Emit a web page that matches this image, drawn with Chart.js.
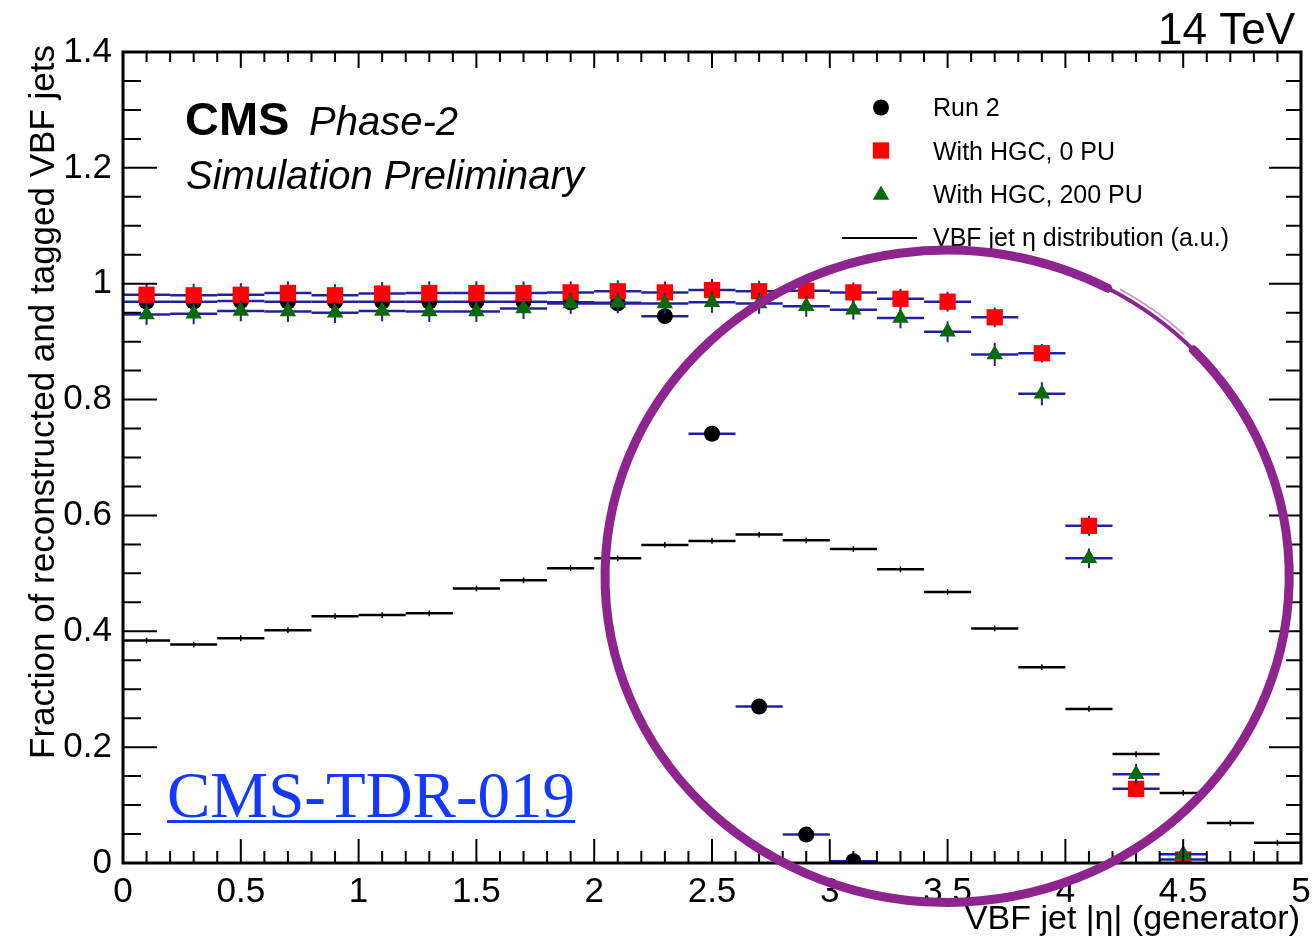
<!DOCTYPE html>
<html>
<head>
<meta charset="utf-8">
<script src="https://cdn.jsdelivr.net/npm/chart.js@4.4.1/dist/chart.umd.min.js"></script>
<style>
  html, body { margin: 0; padding: 0; background: #fff; }
  canvas { display: block; }
</style>
</head>
<body>
<canvas id="chart" width="1313" height="939"></canvas>
<script>
// VBF jet tagging efficiency vs |eta| (CMS Phase-2 HGC TDR)

const binCenters = [0.1, 0.3, 0.5, 0.7, 0.9, 1.1, 1.3, 1.5, 1.7, 1.9, 2.1, 2.3, 2.5,
                    2.7, 2.9, 3.1, 3.3, 3.5, 3.7, 3.9, 4.1, 4.3, 4.5, 4.7, 4.9];
const binHalfWidth = 0.1;

const run2 = [0.969, 0.969, 0.970, 0.969, 0.969, 0.969, 0.969, 0.969, 0.969, 0.968, 0.966, 0.944, 0.741,
              0.270, 0.049, 0.003, null, null, null, null, null, null, null, null, null];
const run2Err = [0.010, 0.010, 0.010, 0.010, 0.010, 0.010, 0.010, 0.010, 0.010, 0.010, 0.010, 0.010, 0.010,
                 0.010, 0.008, 0.003, null, null, null, null, null, null, null, null, null];

const hgc0PU = [0.981, 0.980, 0.981, 0.984, 0.980, 0.983, 0.984, 0.984, 0.984, 0.985, 0.987, 0.985, 0.989,
                0.987, 0.988, 0.985, 0.974, 0.969, 0.942, 0.880, 0.582, 0.128, 0.006, null, null];
const hgc0PUErr = [0.020, 0.020, 0.020, 0.020, 0.019, 0.020, 0.020, 0.020, 0.020, 0.019, 0.019, 0.019, 0.019,
                   0.018, 0.018, 0.017, 0.017, 0.017, 0.017, 0.016, 0.017, 0.015, 0.008, null, null];

const hgc200PU = [0.947, 0.948, 0.953, 0.952, 0.950, 0.953, 0.952, 0.952, 0.957, 0.966, 0.967, 0.966, 0.968,
                  0.966, 0.961, 0.955, 0.941, 0.917, 0.878, 0.810, 0.526, 0.153, 0.015, null, null];
const hgc200PUErr = [0.018, 0.018, 0.018, 0.018, 0.018, 0.018, 0.018, 0.018, 0.018, 0.018, 0.018, 0.018, 0.018,
                     0.018, 0.018, 0.017, 0.018, 0.018, 0.020, 0.020, 0.017, 0.018, 0.010, null, null];

const etaDist = [0.384, 0.377, 0.388, 0.402, 0.426, 0.428, 0.431, 0.474, 0.488, 0.509, 0.526, 0.549, 0.556,
                 0.567, 0.557, 0.542, 0.507, 0.468, 0.405, 0.338, 0.266, 0.188, 0.121, 0.069, 0.035];
const etaDistErr = 0.005;

// hand-drawn highlight ring, in data units
const ring = { cx: 3.498, cy: 0.495, rx: 1.452, ry: 0.563 };

const FONT = "'Liberation Sans', Arial, Helvetica, sans-serif";
const ERR_BLUE = '#2020a0';

function toPoints(values, errs) {
    const pts = [];
    values.forEach((v, i) => {
        if (v === null) return;
        pts.push({ x: binCenters[i], y: v, err: Array.isArray(errs) ? errs[i] : errs });
    });
    return pts;
}

// error bars drawn just before each dataset's markers (like ROOT)
const errorBars = {
    id: 'errorBars',
    beforeDatasetDraw(chart, args) {
        const ds = chart.data.datasets[args.index];
        const { ctx } = chart;
        const x = chart.scales.x, y = chart.scales.y;
        ctx.save();
        ctx.strokeStyle = ds.errColor;
        for (const p of ds.data) {
            const px = x.getPixelForValue(p.x);
            const py = y.getPixelForValue(p.y);
            ctx.lineWidth = ds.hLineWidth;
            ctx.beginPath();
            ctx.moveTo(x.getPixelForValue(p.x - binHalfWidth), py);
            ctx.lineTo(x.getPixelForValue(p.x + binHalfWidth), py);
            ctx.stroke();
            ctx.lineWidth = ds.vLineWidth;
            ctx.beginPath();
            ctx.moveTo(px, y.getPixelForValue(Math.max(0, p.y - p.err)));
            ctx.lineTo(px, y.getPixelForValue(p.y + p.err));
            ctx.stroke();
        }
        ctx.restore();
    }
};

// ROOT style frame with inward ticks on all four sides
const frameTicks = {
    id: 'frameTicks',
    afterDatasetsDraw(chart) {
        const { ctx, chartArea: a } = chart;
        const x = chart.scales.x, y = chart.scales.y;
        ctx.save();
        ctx.strokeStyle = '#000';
        ctx.lineWidth = 2;
        ctx.beginPath();
        for (let i = 0; i <= 50; i++) {
            const px = x.getPixelForValue(i * 0.1);
            const major = i % 5 === 0;
            ctx.moveTo(px, a.bottom);
            ctx.lineTo(px, a.bottom - (major ? 24 : 12));
            ctx.moveTo(px, a.top);
            ctx.lineTo(px, a.top + (major ? 16 : 10));
        }
        for (let i = 0; i <= 28; i++) {
            const py = y.getPixelForValue(i * 0.05);
            const major = i % 4 === 0;
            ctx.moveTo(a.left, py);
            ctx.lineTo(a.left + (major ? 34 : 18), py);
            ctx.moveTo(a.right, py);
            ctx.lineTo(a.right - (major ? 32 : 15), py);
        }
        ctx.stroke();
        ctx.lineWidth = 3;
        ctx.strokeRect(a.left, a.top, a.right - a.left, a.bottom - a.top);
        ctx.restore();
    }
};

// texts, legend and the purple ring
const decorations = {
    id: 'decorations',
    afterDraw(chart) {
        const { ctx } = chart;
        const x = chart.scales.x, y = chart.scales.y;
        ctx.save();
        ctx.fillStyle = '#000';
        ctx.textBaseline = 'alphabetic';

        ctx.font = `bold 47px ${FONT}`;
        ctx.fillText('CMS', 185, 135);
        ctx.font = `italic 40px ${FONT}`;
        ctx.fillText('Phase-2', 309, 135);
        ctx.fillText('Simulation Preliminary', 186, 189);

        ctx.font = `44px ${FONT}`;
        ctx.textAlign = 'right';
        ctx.fillText('14 TeV', 1295, 44);

        ctx.font = `34px ${FONT}`;
        ctx.fillText('VBF jet |\u03b7| (generator)', 1300, 929);

        ctx.save();
        ctx.translate(54, 45);
        ctx.rotate(-Math.PI / 2);
        ctx.textAlign = 'right';
        ctx.font = `35px ${FONT}`;
        ctx.fillText('Fraction of reconstructed and tagged VBF jets', 0, 0);
        ctx.restore();

        // legend
        ctx.textAlign = 'left';
        ctx.font = `25px ${FONT}`;
        const rows = [
            { ds: chart.data.datasets[1], y: 107.5, base: 116 },
            { ds: chart.data.datasets[2], y: 150.5, base: 159.5 },
            { ds: chart.data.datasets[3], y: 195, base: 203 }
        ];
        for (const r of rows) {
            ctx.fillStyle = r.ds.pointBackgroundColor;
            Chart.helpers.drawPoint(ctx, {
                pointStyle: r.ds.pointStyle,
                radius: r.ds.pointRadius,
                rotation: 0,
                borderWidth: 0
            }, 881, r.y);
            ctx.fillStyle = '#000';
            ctx.fillText(r.ds.label, 933, r.base);
        }
        ctx.strokeStyle = '#000';
        ctx.lineWidth = 2;
        ctx.beginPath();
        ctx.moveTo(842, 238);
        ctx.lineTo(917, 238);
        ctx.stroke();
        ctx.fillText(chart.data.datasets[0].label, 933, 246);

        // CMS-TDR-019 link text
        ctx.fillStyle = '#1438ff';
        ctx.font = "65px 'Liberation Serif', 'Times New Roman', serif";
        ctx.fillText('CMS-TDR-019', 167, 817);
        const w = ctx.measureText('CMS-TDR-019').width;
        ctx.fillRect(167, 820, w, 3);

        // purple ring
        const cx = x.getPixelForValue(ring.cx), cy = y.getPixelForValue(ring.cy);
        const rx = x.getPixelForValue(ring.cx + ring.rx) - cx;
        const ry = cy - y.getPixelForValue(ring.cy + ring.ry);
        const deg = Math.PI / 180;
        ctx.strokeStyle = '#8e248e';
        ctx.lineCap = 'round';
        ctx.lineWidth = 9;
        ctx.beginPath();
        ctx.ellipse(cx, cy, rx, ry, 0, -44 * deg, 298 * deg);
        ctx.stroke();
        ctx.lineWidth = 4;
        ctx.beginPath();
        ctx.ellipse(cx, cy, rx, ry, 0, -62 * deg, -44 * deg);
        ctx.stroke();
        ctx.lineWidth = 1.5;
        ctx.globalAlpha = 0.5;
        ctx.beginPath();
        ctx.ellipse(cx, cy, rx + 5, ry + 5, 0, -60 * deg, -47 * deg);
        ctx.stroke();
        ctx.restore();
    }
};

Chart.defaults.font.family = FONT;
Chart.defaults.color = '#000';

new Chart(document.getElementById('chart'), {
    type: 'scatter',
    data: {
        datasets: [
            {
                label: 'VBF jet \u03b7 distribution (a.u.)',
                data: toPoints(etaDist, etaDistErr),
                pointRadius: 0,
                errColor: '#000', hLineWidth: 2.5, vLineWidth: 1.5,
                order: 4
            },
            {
                label: 'Run 2',
                data: toPoints(run2, run2Err),
                pointStyle: 'circle', pointRadius: 8,
                pointBackgroundColor: '#000', pointBorderWidth: 0,
                errColor: ERR_BLUE, hLineWidth: 2.5, vLineWidth: 2,
                order: 3
            },
            {
                label: 'With HGC, 0 PU',
                data: toPoints(hgc0PU, hgc0PUErr),
                pointStyle: 'rect', pointRadius: 11.5,
                pointBackgroundColor: '#ff0000', pointBorderWidth: 0,
                errColor: ERR_BLUE, hLineWidth: 2.5, vLineWidth: 2,
                order: 2
            },
            {
                label: 'With HGC, 200 PU',
                data: toPoints(hgc200PU, hgc200PUErr),
                pointStyle: 'triangle', pointRadius: 9.5,
                pointBackgroundColor: '#076a07', pointBorderWidth: 0,
                errColor: ERR_BLUE, hLineWidth: 2.5, vLineWidth: 2,
                order: 1
            }
        ]
    },
    options: {
        responsive: false,
        animation: false,
        layout: { padding: { top: 52, right: 12, left: 0, bottom: 0 }, autoPadding: false },
        plugins: { legend: { display: false }, tooltip: { enabled: false } },
        scales: {
            x: {
                type: 'linear', min: 0, max: 5,
                grid: { display: false }, border: { display: false },
                ticks: {
                    stepSize: 0.5, padding: 0, maxRotation: 0,
                    font: { size: 35 },
                    callback: v => String(Math.round(v * 10) / 10)
                },
                afterFit: s => { s.height = 76; }
            },
            y: {
                min: 0, max: 1.4,
                grid: { display: false }, border: { display: false },
                ticks: {
                    stepSize: 0.2, padding: 3,
                    font: { size: 35 },
                    callback: v => String(Math.round(v * 10) / 10)
                },
                afterFit: s => { s.width = 123; }
            }
        }
    },
    plugins: [errorBars, frameTicks, decorations]
});
</script>
</body>
</html>
